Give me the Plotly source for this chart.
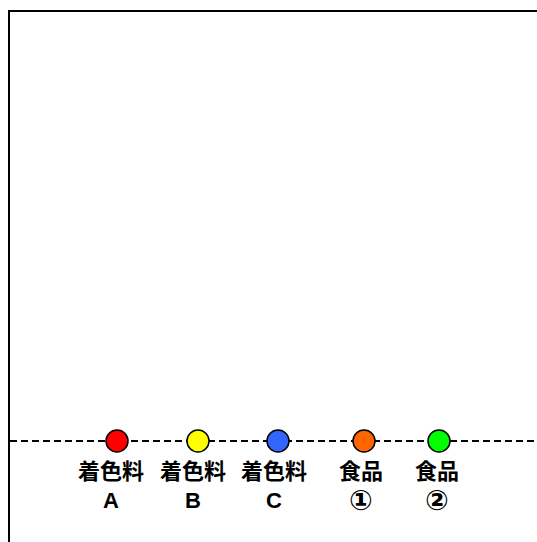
import plotly.graph_objects as go

# Data
names = ["着色料", "着色料", "着色料", "食品", "食品"]
ids = ["A", "B", "C", "①", "②"]
x_pos = [107, 188, 268, 354, 429]
y_vals = [0, 0, 0, 0, 0]
colors = ["#ff0000", "#ffff00", "#3366ff", "#ff6600", "#00ff00"]
label_dx = [-6, -5, -4, -3, -2]

fig = go.Figure()

fig.add_shape(type="line", xref="paper", yref="y", x0=0, x1=1, y0=0, y1=0,
              line=dict(color="black", width=2, dash="7px,4px"), layer="below")

fig.add_trace(go.Scatter(
    x=x_pos, y=y_vals, mode="markers",
    marker=dict(size=22, color=colors, line=dict(color="black", width=1.5)),
    hoverinfo="skip", showlegend=False, cliponaxis=False,
))

base_font = "Liberation Sans, Noto Sans CJK JP"
for x, nm, i, dx in zip(x_pos, names, ids, label_dx):
    fig.add_annotation(x=x, y=0, text="<b>" + nm + "</b>", showarrow=False,
                       xanchor="center", yanchor="top", yshift=-16, xshift=dx,
                       font=dict(family=base_font, size=22, color="black"))
    circled = i in ("①", "②")
    fig.add_annotation(x=x, y=0, text="<b>" + i + "</b>", showarrow=False,
                       xanchor="center", yanchor="middle", yshift=-59, xshift=dx,
                       font=dict(family="DejaVu Sans" if circled else base_font,
                                 size=28 if circled else 22, color="black"))

fig.update_layout(
    width=537, height=542,
    margin=dict(l=10, r=0, t=12, b=0),
    paper_bgcolor="white", plot_bgcolor="white",
    xaxis=dict(range=[0, 527], showgrid=False, zeroline=False, showticklabels=False,
               ticks="", showline=True, linecolor="black", linewidth=2, side="top"),
    yaxis=dict(range=[-1, 4.25], showgrid=False, zeroline=False, showticklabels=False,
               ticks="", showline=True, linecolor="black", linewidth=2, side="left"),
    showlegend=False,
)

fig.write_html("out.html", config={"staticPlot": True},
               post_script="document.body.style.margin='0';document.body.style.overflow='hidden';")
